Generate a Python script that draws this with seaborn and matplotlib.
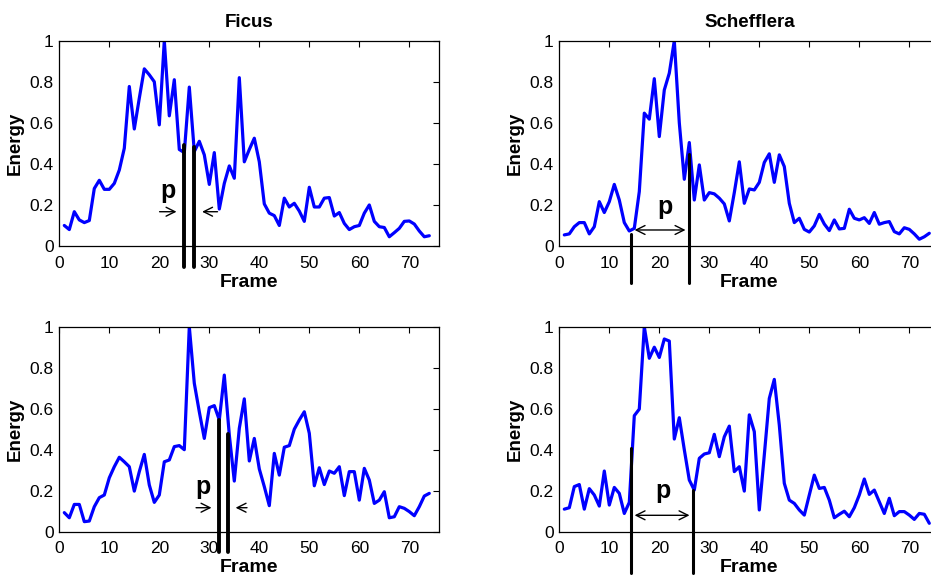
import numpy as np
import pandas as pd
import matplotlib
matplotlib.use("Agg")
import matplotlib.pyplot as plt
import seaborn as sns

sns.set_style("white")
plt.rcParams['font.family'] = ['Liberation Sans', 'DejaVu Sans']
plt.rcParams['text.color'] = 'black'
plt.rcParams['axes.labelcolor'] = 'black'
plt.rcParams['xtick.color'] = 'black'
plt.rcParams['ytick.color'] = 'black'

frames = np.arange(1, 75)

ficus_top = [0.10, 0.08, 0.167, 0.127, 0.114, 0.124, 0.28, 0.32, 0.276, 0.276,
             0.305, 0.37, 0.476, 0.777, 0.57, 0.72, 0.863, 0.834, 0.80, 0.59,
             1.0, 0.634, 0.81, 0.47, 0.455, 0.774, 0.46, 0.51, 0.444, 0.30,
             0.455, 0.18, 0.305, 0.39, 0.33, 0.82, 0.41, 0.47, 0.525, 0.41,
             0.205, 0.16, 0.148, 0.10, 0.233, 0.19, 0.208, 0.17, 0.12, 0.286,
             0.19, 0.19, 0.233, 0.236, 0.146, 0.163, 0.11, 0.08, 0.094, 0.10,
             0.16, 0.20, 0.12, 0.094, 0.09, 0.045, 0.065, 0.086, 0.12, 0.122,
             0.107, 0.073, 0.045, 0.05]

scheff_top = [0.054, 0.059, 0.094, 0.114, 0.114, 0.059, 0.094, 0.216, 0.163, 0.216,
              0.30, 0.224, 0.114, 0.073, 0.086, 0.265, 0.647, 0.618, 0.815, 0.533,
              0.76, 0.842, 1.0, 0.60, 0.325, 0.504, 0.224, 0.395, 0.224, 0.26,
              0.254, 0.233, 0.205, 0.122, 0.26, 0.41, 0.208, 0.278, 0.273, 0.31,
              0.407, 0.449, 0.31, 0.444, 0.387, 0.208, 0.114, 0.135, 0.081, 0.068,
              0.098, 0.154, 0.107, 0.075, 0.127, 0.083, 0.086, 0.179, 0.135, 0.127,
              0.138, 0.11, 0.163, 0.106, 0.114, 0.119, 0.07, 0.059, 0.089, 0.081,
              0.059, 0.033, 0.045, 0.062]

ficus_bot = [0.093, 0.068, 0.133, 0.133, 0.049, 0.052, 0.122, 0.166, 0.179, 0.263,
             0.317, 0.363, 0.341, 0.317, 0.198, 0.293, 0.377, 0.228, 0.143, 0.179,
             0.341, 0.35, 0.415, 0.42, 0.40, 1.0, 0.724, 0.585, 0.455, 0.605,
             0.615, 0.545, 0.764, 0.472, 0.247, 0.504, 0.648, 0.345, 0.455, 0.306,
             0.22, 0.127, 0.382, 0.276, 0.412, 0.42, 0.50, 0.545, 0.585, 0.48,
             0.224, 0.312, 0.23, 0.296, 0.285, 0.317, 0.176, 0.293, 0.293, 0.154,
             0.309, 0.252, 0.138, 0.154, 0.195, 0.068, 0.073, 0.122, 0.114, 0.098,
             0.078, 0.122, 0.174, 0.187]

scheff_bot = [0.11, 0.117, 0.22, 0.23, 0.11, 0.21, 0.179, 0.125, 0.296, 0.13,
              0.216, 0.187, 0.089, 0.143, 0.566, 0.598, 1.0, 0.846, 0.90, 0.85,
              0.94, 0.93, 0.452, 0.556, 0.40, 0.252, 0.203, 0.358, 0.379, 0.385,
              0.475, 0.366, 0.463, 0.515, 0.293, 0.317, 0.198, 0.570, 0.488, 0.106,
              0.374, 0.65, 0.743, 0.52, 0.236, 0.154, 0.138, 0.106, 0.081, 0.179,
              0.276, 0.211, 0.216, 0.154, 0.068, 0.085, 0.10, 0.073, 0.117, 0.179,
              0.257, 0.182, 0.203, 0.146, 0.089, 0.163, 0.078, 0.098, 0.098, 0.081,
              0.06, 0.089, 0.085, 0.041]

titles = ["Ficus", "Schefflera"]
ytick_vals = [0, 0.2, 0.4, 0.6, 0.8, 1]
ytick_labels = ["0", "0.2", "0.4", "0.6", "0.8", "1"]
xtick_vals = [0, 10, 20, 30, 40, 50, 60, 70]

W, H = 931, 578
fig = plt.figure(figsize=(W / 100, H / 100), dpi=100)


def make_ax(left, top, right, bottom):
    return fig.add_axes([left / W, 1 - bottom / H, (right - left) / W, (bottom - top) / H])


axes = [make_ax(59.3, 40.7, 439.3, 246),
        make_ax(559.3, 40.7, 939.3, 246),
        make_ax(59.3, 326.7, 439.3, 531.7),
        make_ax(559.3, 326.7, 939.3, 531.7)]
series = [ficus_top, scheff_top, ficus_bot, scheff_bot]

for i, (ax, vals) in enumerate(zip(axes, series)):
    df = pd.DataFrame({"Frame": frames, "Energy": vals})
    sns.lineplot(data=df, x="Frame", y="Energy", ax=ax, color=(0, 0, 1), lw=2.3)
    ax.set_xlim(0, 76)
    ax.set_ylim(0, 1)
    ax.set_xticks(xtick_vals)
    ax.set_xticklabels([str(t) for t in xtick_vals])
    ax.set_yticks(ytick_vals)
    ax.set_yticklabels(ytick_labels)
    ax.tick_params(direction="in", length=4, width=0.8, top=True, right=True,
                   labelsize=12.5, colors="black")
    ax.tick_params(axis="x", pad=7)
    ax.tick_params(axis="y", pad=4)
    for s in ax.spines.values():
        s.set_linewidth(0.9)
        s.set_color("black")
    ax.set_xlabel("Frame", fontsize=14, fontweight="bold", labelpad=2)
    ax.set_ylabel("Energy", fontsize=13.5, fontweight="bold", labelpad=4)
    if i < 2:
        ax.set_title(titles[i], fontsize=13.5, fontweight="bold", pad=10)

arrow_kw = dict(color="black", lw=1, mutation_scale=16)

# period markers
ax = axes[0]
for x0, y1 in [(25, 0.49), (27, 0.48)]:
    ax.plot([x0, x0], [-0.1, y1], color="black", lw=2.8, clip_on=False)
ax.annotate("", xy=(24.0, 0.167), xytext=(19.5, 0.167),
            arrowprops=dict(arrowstyle="->", **arrow_kw))
ax.annotate("", xy=(28.0, 0.167), xytext=(32.2, 0.167),
            arrowprops=dict(arrowstyle="->", **arrow_kw))
ax.text(21.8, 0.27, "p", fontsize=18, fontweight="bold", ha="center", va="center")

ax = axes[1]
for x0, y1 in [(14.3, 0.06), (26.0, 0.45)]:
    ax.plot([x0, x0], [-0.18, y1], color="black", lw=2.2, clip_on=False)
ax.annotate("", xy=(14.5, 0.078), xytext=(25.8, 0.078),
            arrowprops=dict(arrowstyle="<->", **arrow_kw))
ax.text(21.1, 0.19, "p", fontsize=18, fontweight="bold", ha="center", va="center")

ax = axes[2]
for x0, y1 in [(32, 0.545), (33.8, 0.475)]:
    ax.plot([x0, x0], [-0.1, y1], color="black", lw=2.8, clip_on=False)
ax.annotate("", xy=(31.0, 0.117), xytext=(26.8, 0.117),
            arrowprops=dict(arrowstyle="->", **arrow_kw))
ax.annotate("", xy=(34.7, 0.117), xytext=(38.1, 0.117),
            arrowprops=dict(arrowstyle="->", **arrow_kw))
ax.text(28.8, 0.22, "p", fontsize=18, fontweight="bold", ha="center", va="center")

ax = axes[3]
for x0, y1 in [(14.3, 0.41), (26.8, 0.203)]:
    ax.plot([x0, x0], [-0.2, y1], color="black", lw=2.2, clip_on=False)
ax.annotate("", xy=(14.5, 0.08), xytext=(26.6, 0.08),
            arrowprops=dict(arrowstyle="<->", **arrow_kw))
ax.text(20.8, 0.2, "p", fontsize=18, fontweight="bold", ha="center", va="center")

fig.savefig("out.png", dpi=100)
